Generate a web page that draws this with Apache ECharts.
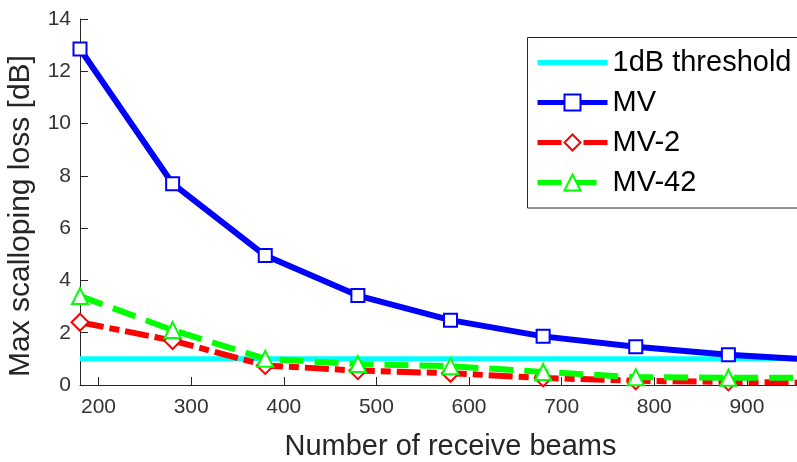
<!DOCTYPE html>
<html>
<head>
<meta charset="utf-8">
<script src="https://cdn.jsdelivr.net/npm/echarts@6/dist/echarts.min.js"></script>
<style>
  html, body { margin: 0; padding: 0; background: #fff; overflow: hidden; }
  #chart { width: 797px; height: 462px; }
</style>
</head>
<body>
<div id="chart"></div>
<script>
// Number of receive beams (x positions of the samples)
const beams = [180, 280, 380, 480, 580, 680, 780, 880, 980];
// Max scalloping loss [dB] for each beamformer
const lossMV   = [12.85, 7.7, 4.95, 3.42, 2.48, 1.86, 1.46, 1.16, 0.95];
const lossMV2  = [2.4, 1.7, 0.75, 0.55, 0.45, 0.27, 0.16, 0.12, 0.08];
const lossMV42 = [3.4, 2.1, 1.0, 0.8, 0.72, 0.5, 0.3, 0.28, 0.27];
// 1 dB reference line end points
const thresholdX = [180, 980];
const thresholdY = [1, 1];
// Axis tick values
const xTicks = [200, 300, 400, 500, 600, 700, 800, 900];
const yTicks = [0, 2, 4, 6, 8, 10, 12, 14];

const pairs = (xs, ys) => xs.map((x, i) => [x, ys[i]]);

const axisColor = '#262626';
const fontFamily = '"Liberation Sans", Arial, Helvetica, sans-serif';
const lineIcon = 'path://M0,0 L70,0 L70,5 L0,5 Z';

const chart = echarts.init(document.getElementById('chart'), null, { renderer: 'canvas' });

chart.setOption({
  backgroundColor: '#ffffff',
  animation: false,
  // legend frame; it runs past the right edge of the canvas
  graphic: [{
    type: 'rect',
    shape: { x: 527.5, y: 37.5, width: 320, height: 170.5 },
    style: { fill: '#ffffff', stroke: axisColor, lineWidth: 1 },
    z: 6,
    silent: true
  }],
  // the plot area runs past the right edge of the canvas (x up to 980)
  grid: { left: 80, top: 19, width: 741, height: 366, containLabel: false, outerBoundsMode: 'none' },
  legend: {
    orient: 'vertical',
    left: 527,
    top: 37,
    padding: [11, 30, 11, 8],
    itemWidth: 70,
    itemHeight: 20,
    itemGap: 11,
    z: 7,
    backgroundColor: 'transparent',
    borderWidth: 0,
    textStyle: { fontFamily, fontSize: 29, color: '#000000' },
    lineStyle: { width: 5 },
    itemStyle: { borderWidth: 5 },
    data: [
      { name: '1dB threshold', icon: lineIcon, itemStyle: { color: '#00FFFF', borderWidth: 0 } },
      'MV', 'MV-2', 'MV-42'
    ]
  },
  xAxis: {
    type: 'value',
    min: thresholdX[0],
    max: thresholdX[1],
    name: 'Number of receive beams',
    nameLocation: 'middle',
    nameGap: 47,
    nameTextStyle: { fontFamily, fontSize: 29, color: axisColor },
    axisLine: { show: true, lineStyle: { color: axisColor, width: 1 } },
    axisTick: { show: true, inside: true, length: 8, customValues: xTicks, lineStyle: { color: axisColor } },
    axisLabel: { show: true, margin: 12, customValues: xTicks, fontFamily, fontSize: 21, color: '#333333' },
    splitLine: { show: false }
  },
  yAxis: {
    type: 'value',
    min: yTicks[0],
    max: yTicks[yTicks.length - 1],
    interval: 2,
    name: 'Max scalloping loss [dB]',
    nameLocation: 'middle',
    nameGap: 44,
    nameRotate: 90,
    nameTextStyle: { fontFamily, fontSize: 30, color: axisColor, padding: [0, 28, 0, 0] },
    axisLine: { show: true, lineStyle: { color: axisColor, width: 1 } },
    axisTick: { show: true, inside: true, length: 8, lineStyle: { color: axisColor } },
    axisLabel: { show: true, margin: 9, fontFamily, fontSize: 21, color: '#333333' },
    splitLine: { show: false }
  },
  series: [
    {
      name: '1dB threshold',
      type: 'line',
      data: pairs(thresholdX, thresholdY),
      symbol: 'none',
      lineStyle: { color: '#00FFFF', width: 5 },
      itemStyle: { color: '#00FFFF' },
      z: 2
    },
    {
      name: 'MV',
      type: 'line',
      data: pairs(beams, lossMV),
      symbol: 'emptyRect',
      symbolSize: 13,
      lineStyle: { color: '#0000FF', width: 6 },
      itemStyle: { color: '#0000FF', borderColor: '#0000FF', borderWidth: 5 },
      z: 3
    },
    {
      name: 'MV-2',
      type: 'line',
      data: pairs(beams, lossMV2),
      symbol: 'emptyDiamond',
      symbolSize: 17,
      lineStyle: { color: '#FF0000', width: 6, type: [24, 6, 10, 6] },
      itemStyle: { color: '#FF0000', borderColor: '#FF0000', borderWidth: 5 },
      z: 4
    },
    {
      name: 'MV-42',
      type: 'line',
      data: pairs(beams, lossMV42),
      symbol: 'emptyTriangle',
      symbolSize: 16,
      lineStyle: { color: '#00FF00', width: 6, type: [24, 11] },
      itemStyle: { color: '#00FF00', borderColor: '#00FF00', borderWidth: 5 },
      z: 5
    }
  ]
});
</script>
</body>
</html>
